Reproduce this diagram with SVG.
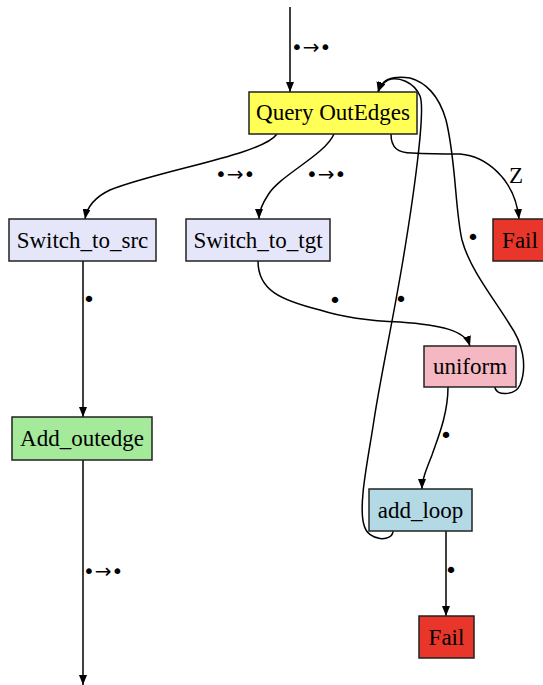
<svg xmlns="http://www.w3.org/2000/svg" width="543" height="685" viewBox="0 0 543 685">
<style>
.n rect{stroke:#222;stroke-width:1.5}
.n text,.z{font-family:"Liberation Serif","Times New Roman",serif;font-size:23px;fill:#000}
.n text{text-anchor:middle}
.lbl{font-family:"DejaVu Sans",sans-serif;font-size:22px;fill:#000}
.lbl.ar{font-size:20px}
.e path{fill:none;stroke:#000;stroke-width:1.5}
</style>
<defs>
<marker id="ah" markerUnits="userSpaceOnUse" markerWidth="10" markerHeight="8" refX="10" refY="4" orient="auto">
<path d="M0,0 L10,4 L0,8 z" fill="#000"/>
</marker>
</defs>
<rect width="543" height="685" fill="#fff"/>
<g class="e">
<path d="M290,7 L290,92" marker-end="url(#ah)"/>
<path d="M277,134 C262,155 160,170 110,190 C95,197 87,207 85,219" marker-end="url(#ah)"/>
<path d="M334,134 C325,155 280,175 268,195 C262,204 259,212 259,219" marker-end="url(#ah)"/>
<path d="M391,134 C391,148 398,153 412,153 C430,154 445,154 460,154 C485,156 515,178 519,219" marker-end="url(#ah)"/>
<path d="M83,261 L83,417" marker-end="url(#ah)"/>
<path d="M83,460 L83,685" marker-end="url(#ah)"/>
<path d="M258,261 C258,290 280,300 320,310 C345,318 370,321 400,322 C440,325 465,330 470,346" marker-end="url(#ah)"/>
<path d="M448,387 C448,415 437,440 432,455 C426,470 422,480 422,489" marker-end="url(#ah)"/>
<path d="M446,531 L446,616" marker-end="url(#ah)"/>
<path d="M393,531 C393,542 368,542 364,525 C358,505 368,460 374,420 C380,380 393,320 403,260 C413,200 426,110 420,96 C414,82 398,76 388,80 C382,83 380,87 378,92" marker-end="url(#ah)"/>
<path d="M495,387 C495,396 515,396 520,385 C528,365 522,342 510,325 C495,300 470,270 462,240 C455,210 456,160 446,120 C439,95 425,82 410,78 C398,76 388,78 384,82 C381,85 379,88 378,92" marker-end="url(#ah)"/>
</g>
<g id="labels">
<text class="lbl ar" x="291" y="54">•→•</text>
<text class="lbl ar" x="215" y="181">•→•</text>
<text class="lbl ar" x="306" y="181">•→•</text>
<text class="z" x="509" y="183">Z</text>
<text class="lbl ar" x="83" y="578">•→•</text>
<text class="lbl" x="82.5" y="307">•</text>
<text class="lbl" x="328.5" y="308">•</text>
<text class="lbl" x="394.5" y="307">•</text>
<text class="lbl" x="466.5" y="245">•</text>
<text class="lbl" x="439.5" y="443">•</text>
<text class="lbl" x="444.5" y="578">•</text>
</g>
<g id="query" class="n"><rect x="249" y="92" width="168" height="42" fill="#ffff55"/><text x="333" y="120">Query OutEdges</text></g>
<g id="switch_src" class="n"><rect x="9" y="219" width="147" height="42" fill="#e6e6fa"/><text x="82.5" y="248">Switch_to_src</text></g>
<g id="switch_tgt" class="n"><rect x="186" y="219" width="144" height="42" fill="#e6e6fa"/><text x="258" y="248">Switch_to_tgt</text></g>
<g id="fail1" class="n"><rect x="493" y="219" width="54" height="42" fill="#e8362a"/><text x="520" y="248">Fail</text></g>
<g id="uniform" class="n"><rect x="424" y="346" width="92" height="41" fill="#f5b8c3"/><text x="470" y="374">uniform</text></g>
<g id="add_outedge" class="n"><rect x="12" y="417" width="140" height="43" fill="#a4ea9a"/><text x="82" y="446">Add_outedge</text></g>
<g id="add_loop" class="n"><rect x="369" y="489" width="103" height="42" fill="#b3d9e5"/><text x="420.5" y="518">add_loop</text></g>
<g id="fail2" class="n"><rect x="419" y="616" width="55" height="42" fill="#e8362a"/><text x="446.5" y="645">Fail</text></g>
</svg>
